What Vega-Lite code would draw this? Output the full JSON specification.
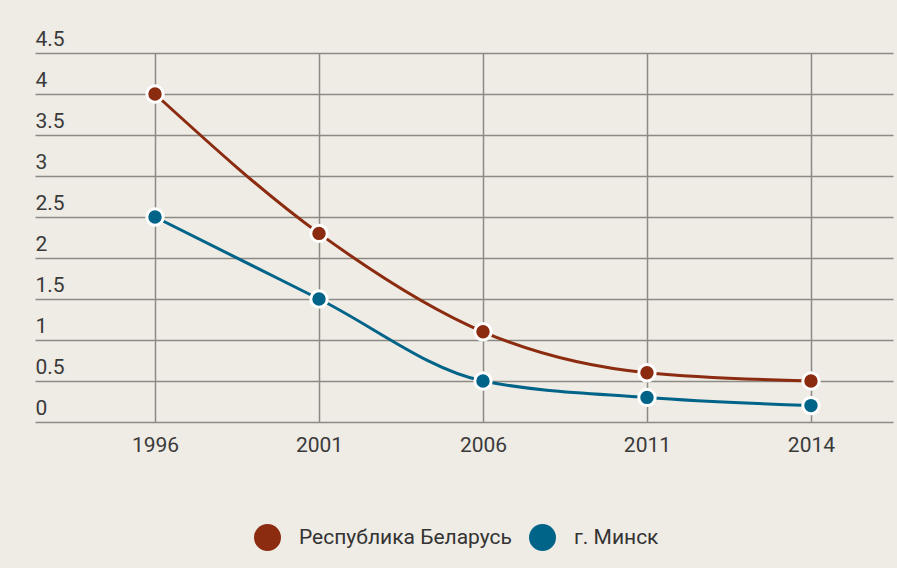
{
  "$schema": "https://vega.github.io/schema/vega-lite/v6.json",
  "width": 858,
  "height": 369,
  "autosize": {"type": "none"},
  "padding": {"left": 35, "top": 53, "right": 4, "bottom": 146},
  "background": "#efebe5",
  "config": {
    "view": {"stroke": null},
    "font": "Roboto",
    "axis": {
      "domain": false,
      "ticks": false,
      "tickSize": 0,
      "gridColor": "#8c8a85",
      "gridWidth": 1.5,
      "gridOpacity": 1,
      "labelFont": "Roboto",
      "labelFontSize": 21,
      "labelColor": "#3a3a3a",
      "title": null
    }
  },
  "data": {
    "values": [
      {"year": "1996", "region": "Республика Беларусь", "value": 4.0},
      {"year": "2001", "region": "Республика Беларусь", "value": 2.3},
      {"year": "2006", "region": "Республика Беларусь", "value": 1.1},
      {"year": "2011", "region": "Республика Беларусь", "value": 0.6},
      {"year": "2014", "region": "Республика Беларусь", "value": 0.5},
      {"year": "1996", "region": "г. Минск", "value": 2.5},
      {"year": "2001", "region": "г. Минск", "value": 1.5},
      {"year": "2006", "region": "г. Минск", "value": 0.5},
      {"year": "2011", "region": "г. Минск", "value": 0.3},
      {"year": "2014", "region": "г. Минск", "value": 0.2}
    ]
  },
  "encoding": {
    "x": {
      "field": "year",
      "type": "ordinal",
      "scale": {"type": "point", "padding": 0.616, "align": 0.594},
      "axis": {"labelAngle": 0, "labelPadding": 12, "grid": true}
    },
    "y": {
      "field": "value",
      "type": "quantitative",
      "scale": {"domain": [0, 4.5], "nice": false},
      "axis": {
        "values": [0, 0.5, 1, 1.5, 2, 2.5, 3, 3.5, 4, 4.5],
        "format": "~g",
        "labelAlign": "left",
        "labelBaseline": "alphabetic",
        "labelOffset": -8,
        "labelPadding": 0,
        "grid": true
      }
    },
    "color": {
      "field": "region",
      "type": "nominal",
      "scale": {"domain": ["Республика Беларусь", "г. Минск"], "range": ["#8b2b0f", "#006489"]},
      "legend": {
        "title": null,
        "orient": "none",
        "direction": "horizontal",
        "legendX": 219,
        "legendY": 471,
        "symbolType": "circle",
        "symbolSize": 729,
        "symbolStrokeWidth": 0,
        "symbolOpacity": 1,
        "labelFontSize": 21,
        "labelFont": "Roboto",
        "labelColor": "#333333",
        "labelOffset": 18,
        "labelLimit": 500,
        "columnPadding": 17
      }
    }
  },
  "layer": [
    {
      "mark": {"type": "line", "interpolate": "monotone", "strokeWidth": 3}
    },
    {
      "mark": {"type": "point", "filled": true, "size": 270, "stroke": "white", "strokeWidth": 3, "opacity": 1},
      "encoding": {
        "stroke": {"value": "white"}
      }
    }
  ]
}
